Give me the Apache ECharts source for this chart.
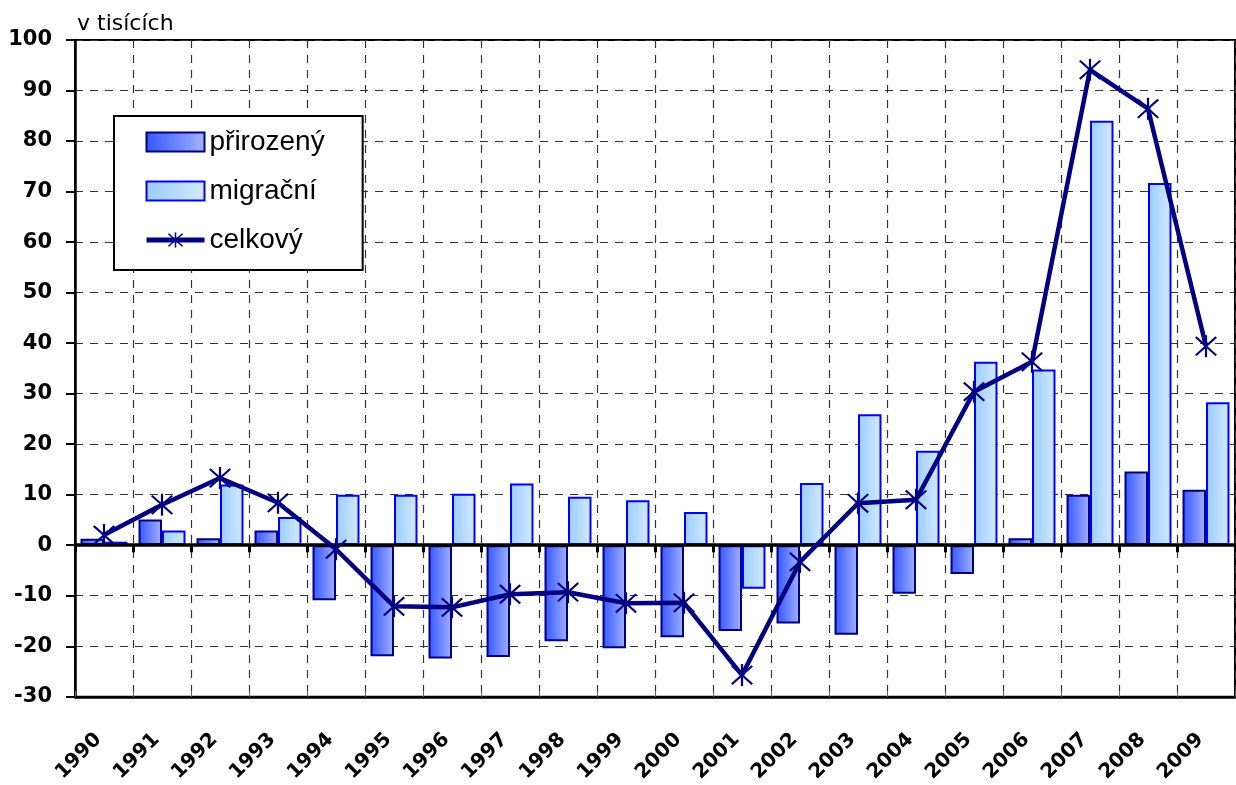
<!DOCTYPE html>
<html>
<head>
<meta charset="utf-8">
<script src="https://cdn.jsdelivr.net/npm/echarts@6/dist/echarts.min.js"></script>
<style>
  html, body { margin: 0; padding: 0; background: #fff; }
  #chart { width: 1236px; height: 785px; }
</style>
</head>
<body>
<div id="chart"></div>
<script>
  // hodnoty v tisících
  var years = ['1990', '1991', '1992', '1993', '1994', '1995', '1996', '1997', '1998', '1999',
               '2000', '2001', '2002', '2003', '2004', '2005', '2006', '2007', '2008', '2009'];
  var prirozeny = [1.3, 5.1, 1.4, 2.9, -10.9, -22.0, -22.4, -22.1, -19.0, -20.4,
                   -18.2, -17.0, -15.5, -17.7, -9.6, -5.7, 1.4, 10.0, 14.6, 11.0];
  var migracni = [0.7, 2.9, 12.0, 5.6, 10.0, 10.0, 10.2, 12.2, 9.6, 8.9,
                  6.6, -8.6, 12.3, 25.9, 18.7, 36.3, 34.8, 84.0, 71.7, 28.3];
  var celkovy = [2.0, 8.0, 13.3, 8.4, -0.8, -12.1, -12.3, -9.7, -9.3, -11.5,
                 -11.4, -25.7, -3.3, 8.3, 9.0, 30.4, 36.3, 94.1, 86.4, 39.4];

  var font = 'Arial, "Liberation Sans", sans-serif';
  var wideFont = '"DejaVu Sans", sans-serif';
  var dash = { color: '#333', width: 1.2, type: [8, 7] };

  // hvězdička jako u Excelu (X + svislá čára)
  var asterisk = 'path://M9.1 0H10.9V20H9.1Z' +
                 'M1 2.3L2.3 1L19 17.7L17.7 19Z' +
                 'M17.7 1L19 2.3L2.3 19L1 17.7Z';

  var chart = echarts.init(document.getElementById('chart'));
  chart.setOption({
    animation: false,
    backgroundColor: '#fff',
    title: {
      text: 'v tisících',
      left: 72, top: 8,
      textStyle: { fontFamily: wideFont, fontSize: 22, fontWeight: 'normal', color: '#000' }
    },
    legend: {
      orient: 'vertical',
      left: 114, top: 116,
      padding: [12, 38, 16, 30],
      itemGap: 21,
      itemWidth: 58, itemHeight: 19,
      backgroundColor: '#fff',
      borderColor: '#000', borderWidth: 2,
      lineStyle: { width: 5 },
      textStyle: { fontFamily: font, fontSize: 28, color: '#000' },
      data: [{ name: 'přirozený', icon: 'rect' }, { name: 'migrační', icon: 'rect' }, 'celkový']
    },
    grid: {
      left: 75, right: 1, top: 40, bottom: 85,
      show: true, borderColor: '#000', borderWidth: 2
    },
    xAxis: [{
      type: 'category',
      data: years,
      axisLine: { onZero: false, lineStyle: { color: '#000', width: 2.5 } },
      axisTick: { show: true, inside: true, interval: 0, length: 6, lineStyle: { color: '#666', width: 1 } },
      axisLabel: {
        interval: 0, rotate: 45, margin: 34, padding: [0, 8, 0, 0],
        fontFamily: wideFont, fontSize: 20, fontWeight: 'bold', color: '#000'
      },
      splitLine: { show: true, interval: 0, lineStyle: dash }
    }, {
      type: 'category',
      data: years,
      position: 'bottom',
      z: 4,
      axisLine: { onZero: true, onZeroAxisIndex: 0, lineStyle: { color: '#000', width: 3.5 } },
      axisTick: { show: true, interval: 0, length: 7, lineStyle: { color: '#000', width: 3 } },
      axisLabel: { show: false },
      splitLine: { show: false }
    }],
    yAxis: {
      type: 'value',
      min: -30, max: 100, interval: 10,
      axisLine: { show: true, onZero: false, lineStyle: { color: '#000', width: 2.5 } },
      axisTick: { show: true, length: 9, lineStyle: { color: '#000', width: 2 } },
      axisLabel: { margin: 23, fontFamily: wideFont, fontSize: 21, fontWeight: 'bold', color: '#000' },
      splitLine: { show: true, lineStyle: dash }
    },
    series: [{
      name: 'přirozený',
      type: 'bar',
      data: prirozeny,
      barGap: '0%',
      barCategoryGap: '19%',
      itemStyle: {
        color: new echarts.graphic.LinearGradient(0, 0, 1, 0, [
          { offset: 0, color: '#3355ff' }, { offset: 1, color: '#a3b3ff' }
        ]),
        borderColor: '#000080', borderWidth: 2
      }
    }, {
      name: 'migrační',
      type: 'bar',
      data: migracni,
      itemStyle: {
        color: new echarts.graphic.LinearGradient(0, 0, 1, 0, [
          { offset: 0, color: '#99ccff' }, { offset: 1, color: '#d4eaff' }
        ]),
        borderColor: '#0000ff', borderWidth: 2
      }
    }, {
      name: 'celkový',
      type: 'line',
      data: celkovy,
      z: 10,
      symbol: asterisk,
      symbolSize: 22,
      lineStyle: { color: '#000080', width: 4.5 },
      itemStyle: { color: '#000080' }
    }]
  });
</script>
</body>
</html>
